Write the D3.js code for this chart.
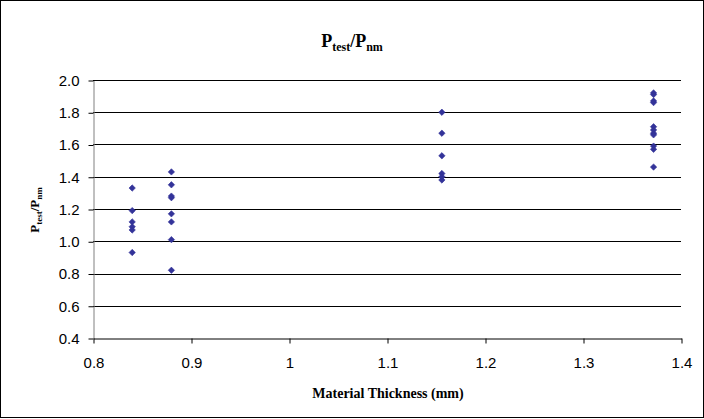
<!DOCTYPE html>
<html><head><meta charset="utf-8">
<script src="https://cdn.jsdelivr.net/npm/d3@7"></script>
<style>body{margin:0;background:#fff}svg{display:block}</style>
</head><body>
<script>
const thickness = [0.84, 0.88, 1.156, 1.372];
const ratios = [
  [1.33, 1.19, 1.12, 1.09, 1.07, 0.93],
  [1.43, 1.35, 1.28, 1.27, 1.17, 1.12, 1.01, 0.82],
  [1.80, 1.67, 1.53, 1.42, 1.40, 1.38],
  [1.92, 1.91, 1.87, 1.86, 1.71, 1.69, 1.67, 1.66, 1.59, 1.57, 1.46]
];
const xTicks = [0.8, 0.9, 1.0, 1.1, 1.2, 1.3, 1.4];
const yTicks = [0.4, 0.6, 0.8, 1.0, 1.2, 1.4, 1.6, 1.8, 2.0];

const points = [];
thickness.forEach((t, i) => ratios[i].forEach(v => points.push({x: t, y: v})));

const W = 704, H = 419;
const svg = d3.select("body").append("svg").attr("width", W).attr("height", H);
svg.append("rect").attr("x", 0.5).attr("y", 0.5).attr("width", W - 1).attr("height", H - 2)
  .attr("fill", "#fff").attr("stroke", "#000");

const x = d3.scaleLinear().domain([0.8, 1.4]).range([93, 681]);
const y = d3.scaleLinear().domain([0.4, 2.0]).range([338, 80]);

// gridlines
svg.append("g").selectAll("line").data(yTicks.filter(d => d > 0.4)).join("line")
  .attr("x1", x(0.8)).attr("x2", x(1.4))
  .attr("y1", d => Math.round(y(d)) + 0.5).attr("y2", d => Math.round(y(d)) + 0.5)
  .attr("stroke", "#000").attr("stroke-width", 1);

const tickFont = "'Liberation Sans', Arial, sans-serif";
const yAxis = svg.append("g").attr("transform", `translate(${x(0.8) + 0.5},0.5)`)
  .call(d3.axisLeft(y).tickValues(yTicks).tickFormat(d3.format(".1f")).tickSize(5).tickSizeOuter(0).tickPadding(9));
const xAxis = svg.append("g").attr("transform", `translate(0.5,${Math.round(y(0.4)) + 0.5})`)
  .call(d3.axisBottom(x).tickValues(xTicks).tickFormat(d => d3.format("")(+d.toFixed(1))).tickSize(5).tickSizeOuter(0).tickPadding(14));
[yAxis, xAxis].forEach(a => {
  a.select(".domain").attr("stroke", "#808080");
  a.selectAll(".tick line").attr("stroke", "#000");
  a.selectAll("text").attr("font-family", tickFont).attr("font-size", 15).attr("fill", "#000");
});
xAxis.select(".domain").attr("stroke", "#000");

// points
const diamond = d3.symbol().type(d3.symbolDiamond2).size(26);
svg.append("g").selectAll("path").data(points).join("path")
  .attr("d", diamond)
  .attr("transform", d => `translate(${x(d.x)},${y(d.y)})`)
  .attr("fill", "#333399").attr("stroke", "#333399").attr("stroke-width", 0.6);

const serif = "'Liberation Serif', 'Times New Roman', serif";
function subLabel(g, size, subSize) {
  const t = g.append("text").attr("font-family", serif).attr("font-weight", "bold")
    .attr("font-size", size).attr("text-anchor", "middle").attr("fill", "#000");
  t.append("tspan").text("P");
  t.append("tspan").attr("font-size", subSize).attr("dy", size * 0.22).text("test");
  t.append("tspan").attr("dy", -size * 0.22).text("/P");
  t.append("tspan").attr("font-size", subSize).attr("dy", size * 0.22).text("nm");
  return t;
}
subLabel(svg.append("g").attr("transform", "translate(352,47)"), 18, 12);
subLabel(svg.append("g").attr("transform", "translate(39,210) rotate(-90)"), 13, 9);

svg.append("text").attr("x", 388).attr("y", 398).attr("text-anchor", "middle")
  .attr("font-family", serif).attr("font-weight", "bold").attr("font-size", 14)
  .text("Material Thickness (mm)");
</script>
</body></html>
